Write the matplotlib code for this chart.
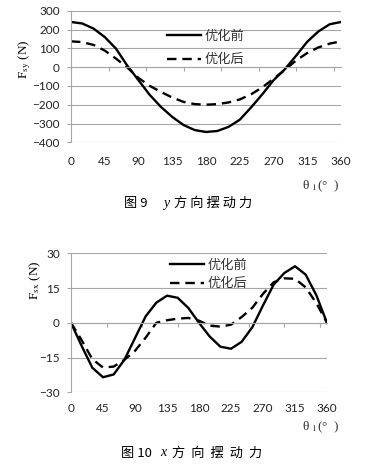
import matplotlib.pyplot as plt

# 曲柄转角 (每 15° 读一个点)
theta = list(range(0, 361, 15))

# 图9 y 方向摆动力 (N)
fsy_before = [240, 232, 205, 160, 98, 8, -70, -148, -212, -265, -308, -335, -345,
              -340, -318, -280, -215, -145, -70, -12, 60, 135, 190, 228, 240]
fsy_after = [137, 133, 118, 88, 45, -2, -58, -100, -132, -162, -185, -197, -200,
             -197, -188, -172, -145, -108, -62, -15, 35, 75, 105, 125, 137]

# 图10 x 方向摆动力 (N)
fsx_before = [0, -10, -19.4, -23.5, -22.3, -16, -6.6, 2.8, 8.7, 11.7, 10.8, 6.4, 0,
              -5.9, -10.3, -11.2, -8.2, -1.9, 7.5, 16.5, 21.5, 24.4, 20.8, 11.9, 0]
fsx_after = [0, -7.5, -15.7, -19.3, -18.9, -16, -12.1, -6.4, 0, 1.1, 1.8, 2.1, 0.9,
             -1.2, -1.65, -0.8, 2.5, 6.5, 12.5, 17.5, 19.2, 19.0, 15.3, 8.5, 0]

xlabels = [0, 45, 90, 135, 180, 225, 270, 315, 360]
yticks_top = [-400, -300, -200, -100, 0, 100, 200, 300]
yticks_bot = [-30, -15, 0, 15, 30]
names = ['优化前', '优化后']

plt.rcParams['font.family'] = ['Lato', 'DejaVu Sans']
plt.rcParams['mathtext.fontset'] = 'stix'

W, H = 369, 467
fig = plt.figure(figsize=(W / 100, H / 100), dpi=100)
GRAY = '#a6a6a6'
cjk = ['Noto Sans CJK SC', 'DejaVu Sans']


def px(x, y):
    return x / W, 1 - y / H


def draw(ax, before, after, yticks, xpad, legend_xy, lspace):
    ax.plot(theta, before, color='black', lw=1.7, label=names[0])
    ax.plot(theta, after, color='black', lw=1.7, ls=(0, (4, 2.5)), label=names[1])
    ax.set_xlim(0, 360)
    ax.set_ylim(yticks[0], yticks[-1])
    ax.set_yticks(yticks)
    ax.grid(axis='y', color=GRAY, lw=0.8)
    ax.spines['top'].set_visible(False)
    ax.spines['right'].set_visible(False)
    ax.spines['left'].set_color(GRAY)
    ax.spines['bottom'].set_position(('data', 0))
    ax.spines['bottom'].set_color(GRAY)
    ax.set_xticks(range(0, 360, 50))
    ax.tick_params(axis='x', length=3, color=GRAY, labelbottom=False)
    ax.tick_params(axis='y', length=3, color=GRAY, labelsize=8.5, pad=5,
                   labelcolor='#222222')
    sec = ax.secondary_xaxis('bottom')
    sec.set_xticks(xlabels)
    sec.tick_params(length=0, labelsize=8.5, pad=xpad, labelcolor='#222222')
    sec.spines['bottom'].set_visible(False)
    ax.legend(loc='upper left', bbox_to_anchor=legend_xy, frameon=False,
              handlelength=2.6, handletextpad=0.2, labelspacing=lspace,
              borderaxespad=0, borderpad=0,
              prop={'family': cjk, 'size': 9.5}, labelcolor='#333333')


ax1 = fig.add_axes([71 / W, 1 - 142.3 / H, 270 / W, 131.6 / H])
draw(ax1, fsy_before, fsy_after, yticks_top, 10, (0.356, 0.855), 0.8)

ax2 = fig.add_axes([71 / W, 1 - 392.3 / H, 256 / W, 139 / H])
draw(ax2, fsx_before, fsx_after, yticks_bot, 8, (0.387, 0.96), 0.4)

# y 轴标题
fig.text(*px(25, 59), 'F$_{\\rm sy}$ (N)', rotation=90, ha='center', va='center',
         family='Liberation Serif', fontsize=9.5)
fig.text(*px(35, 280), 'F$_{\\rm sx}$ (N)', rotation=90, ha='center', va='center',
         family='Liberation Serif', fontsize=9.5)

# x 轴标题
for y in (186, 427):
    fig.text(*px(321, y), 'θ $_{\\rm 1}$(°  )', ha='center', va='center',
             family='Liberation Serif', fontsize=9.5, color='#333333')

# 图题
fig.text(*px(124, 203), '图 9', ha='left', va='center', family=cjk, fontsize=9.5)
fig.text(*px(163, 203), 'y', ha='left', va='center', family='Liberation Serif',
         style='italic', fontsize=10)
fig.text(*px(174, 203), '方 向 摆 动 力', ha='left', va='center', family=cjk, fontsize=9.5)

fig.text(*px(121, 453), '图 10', ha='left', va='center', family=cjk, fontsize=9.5)
fig.text(*px(160, 453), 'x', ha='left', va='center', family='Liberation Serif',
         style='italic', fontsize=10)
fig.text(*px(172, 453), '方  向  摆  动  力', ha='left', va='center', family=cjk, fontsize=9.5)

fig.savefig('out.png', dpi=100)
